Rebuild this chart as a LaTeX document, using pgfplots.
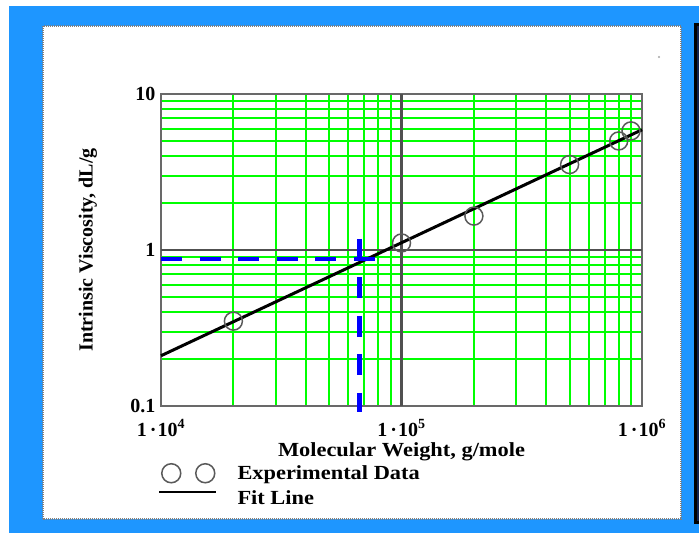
\documentclass[border=0pt]{standalone}
\usepackage{pgfplots}
\pgfplotsset{compat=1.18}
\usepackage{fontspec}
\setmainfont{Liberation Serif}

\definecolor{bgblue}{RGB}{30,150,255}
\definecolor{gridgreen}{RGB}{0,255,0}
\definecolor{majgray}{RGB}{80,80,80}
\definecolor{boxgray}{RGB}{105,105,105}
\definecolor{markgray}{RGB}{90,90,90}
\definecolor{navy}{RGB}{15,35,80}

\newcommand{\chartfont}{\fontsize{20bp}{24bp}\selectfont\bfseries}
\newcommand{\wide}[1]{\scalebox{1.12}[1]{#1}}
\newcommand{\sci}[1]{1\kern3bp·\kern1bp10\textsuperscript{#1}}

\begin{document}
\begin{tikzpicture}
\useasboundingbox (0,0) rectangle (699bp,533bp);
% frame around the chart
\fill[white] (0,0) rectangle (699bp,533bp);
\fill[bgblue] (9bp,0) rectangle (699bp,527bp);
\fill[navy] (695.5bp,10bp) rectangle (705bp,508bp);
\draw[black, line width=3bp] (695.5bp,10bp) rectangle (705bp,508bp);
\fill[white] (43bp,14bp) rectangle (681bp,507bp);
\draw[gray, line width=2bp, dash pattern=on 1bp off 1bp] (43bp,14bp) rectangle (681bp,507bp);
\fill[gray!70] (659bp,476bp) circle (1.2bp);

\begin{axis}[
    at={(161bp,127bp)}, anchor=south west,
    width=481bp, height=312bp, scale only axis,
    xmode=log, ymode=log,
    xmin=1e4, xmax=1e6, ymin=0.1, ymax=10,
    clip=false,
    % every grid line is a tick; only the decades get labels
    xtick={1e4,2e4,3e4,4e4,5e4,6e4,7e4,8e4,9e4,
           1e5,2e5,3e5,4e5,5e5,6e5,7e5,8e5,9e5,1e6},
    xticklabels={\sci{4},,,,,,,,,\sci{5},,,,,,,,,\sci{6}},
    ytick={0.1,0.2,0.3,0.4,0.5,0.6,0.7,0.8,0.9,
           1,2,3,4,5,6,7,8,9,10},
    yticklabels={0.1,,,,,,,,,1,,,,,,,,,10},
    minor xtick={}, minor ytick={},
    grid=major,
    major grid style={draw=gridgreen, line width=2bp, opacity=1},
    extra x ticks={1e5}, extra y ticks={1},
    extra x tick labels={}, extra y tick labels={},
    extra tick style={grid=major, major grid style={draw=majgray, line width=2.4bp}},
    axis line style={boxgray, line width=2bp},
    major tick length=0pt, minor tick length=0pt,
    tick label style={font=\chartfont},
    xticklabel style={yshift=-10bp},
    yticklabel style={xshift=-2bp},
    label style={font=\chartfont},
    xlabel={\wide{Molecular Weight, g/mole}},
    ylabel={Intrinsic Viscosity, dL/g},
    xlabel style={at={(axis description cs:0.5,0)}, anchor=center, yshift=-46bp},
    ylabel style={at={(axis description cs:-0.1518,0.5)}, anchor=center},
    legend cell align=left,
    legend style={draw=none, fill=none, inner sep=0pt, outer sep=0pt,
        at={(axis description cs:0,0)}, anchor=north west,
        xshift=-3bp, yshift=-57bp,
        row sep=5bp, column sep=20bp,
        nodes={inner sep=0pt}, font=\chartfont},
]
\addplot[only marks, mark=o, mark size=9bp,
    mark options={markgray, line width=1.5bp},
    legend image code/.code={
        \path[draw=none, fill=none] (0bp,-10bp) rectangle (57bp,10bp);
        \draw[markgray, line width=1.5bp] (12bp,0bp) circle[radius=9.5bp];
        \draw[markgray, line width=1.5bp] (46bp,0bp) circle[radius=9.5bp];
    }]
coordinates {
    (2e4,0.35) (1e5,1.11) (2e5,1.65) (5e5,3.53) (8e5,5.0) (9e5,5.8)
};
\addlegendentry{\wide{Experimental Data}}

\addplot[black, line width=3bp,
    legend image code/.code={
        \path[draw=none, fill=none] (0bp,-10bp) rectangle (57bp,10bp);
        \draw[black, line width=2.5bp] (0bp,6.5bp) -- (57bp,6.5bp);
    }]
coordinates {(1e4,0.21) (1e6,5.9)};
\addlegendentry{\wide{Fit Line}}

\addplot[blue, line width=4.5bp, dash pattern=on 21bp off 17.5bp, forget plot]
coordinates {(1e4,0.875) (7.9e4,0.875)};
\addplot[blue, line width=4.5bp, dash pattern=on 21bp off 17.5bp, forget plot]
coordinates {(6.68e4,1.18) (6.68e4,0.0915)};
\end{axis}
\end{tikzpicture}
\end{document}
